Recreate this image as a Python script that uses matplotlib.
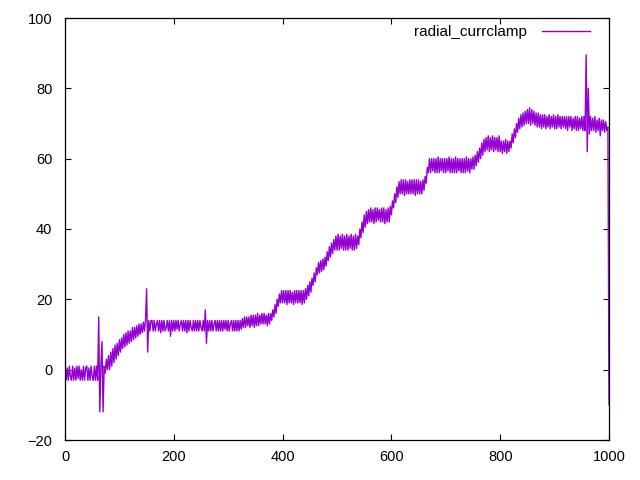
import numpy as np
import matplotlib
matplotlib.use('Agg')
import matplotlib.pyplot as plt

plt.rcParams['font.family'] = ['Liberation Sans', 'DejaVu Sans']

# radial_currclamp, one sample every 2 units of x
values = [
    1, -3, 0.5, -3, 1, -2, -3, 1, -3, 0.5, -3, 1, -2.5, 1, -3, 0, -3, 1, -3, 0.5,
    1, -3, 0.5, -3, 1, -2, -3, 1, -3, 1, -3, 15, -12, 1, 8, -12, 1, -1, 3, 0,
    4, 0, 5, 1, 6, 2, 7, 3, 7.5, 4, 8.5, 5, 9, 6, 10, 6.5, 10.5, 7, 11, 7.5,
    11, 8, 12, 8.5, 12, 9, 12.5, 9.5, 13, 10, 13, 10.5, 13.5, 11, 14, 23, 5, 14, 11, 14,
    14, 11, 14, 11, 13, 14, 11, 14, 10.5, 14, 11, 14, 11, 12, 14, 11, 14, 9.5, 14, 11,
    14, 11, 14, 11.5, 14, 11, 13, 14, 11, 14, 11, 14, 10.5, 14, 11, 14, 12, 11, 14, 11,
    14, 11, 14, 11, 14, 12, 11, 14, 11, 17, 7.5, 14, 11, 14, 11, 14, 11, 13, 14, 11,
    14, 11, 14, 11, 14, 11, 14, 11.5, 14, 11, 14, 11, 13, 14, 11, 14, 11, 14, 11, 14,
    11, 14, 11.5, 14.5, 12, 15, 12, 15, 12.5, 15, 12, 15.5, 12.5, 15.5, 12, 15.5, 12.5, 16, 12.5, 15.5,
    13, 16, 13, 16, 13, 15.5, 12.5, 16, 13, 16, 14, 17, 15, 18.5, 16, 20, 18, 21.5, 19, 22.5,
    19, 22.5, 19, 22.5, 18.5, 22.5, 19, 22.5, 19, 22, 18.5, 22.5, 19, 22.5, 19, 22.5, 19, 22.5, 18.5, 22.5,
    19, 23, 20, 24, 21, 25, 22, 26, 24, 27.5, 25, 29, 27, 30.5, 27.5, 31, 28, 31.5, 28.5, 32,
    29.5, 33.5, 31, 35, 32, 36, 33, 37, 34, 38, 34, 38.5, 34, 38, 34.5, 38.5, 34, 38, 34, 38.5,
    34, 38, 34.5, 38.5, 34, 38, 34, 38.5, 34.5, 38, 35.5, 40, 37.5, 42, 39, 44, 40.5, 45, 41.5, 45.5,
    42, 46, 42, 45.5, 41.5, 46, 42, 46, 42.5, 45.5, 42, 46, 42, 46, 41.5, 45.5, 42, 46, 42, 46.5,
    44, 48, 46, 50, 47.5, 52, 49, 53.5, 50, 54, 50, 54, 49.5, 54, 50, 53.5, 50, 54, 50, 54,
    50, 54, 49.5, 54, 50, 54, 50, 53.5, 50, 54, 51, 55, 53, 57.5, 56, 60, 56, 60, 56.5, 60,
    56, 60, 56, 60.5, 56, 60, 56.5, 60, 56, 60, 56, 60, 56.5, 60.5, 56, 60, 56, 60, 56, 60.5,
    56, 60, 56.5, 60, 56, 60, 56, 60, 56, 60.5, 56.5, 60, 56, 60, 57, 60.5, 57, 61, 58, 62,
    59, 63, 60, 64.5, 61, 65.5, 62, 66, 62.5, 66.5, 62, 66, 62.5, 66.5, 62, 66, 62.5, 66, 62, 66.5,
    62, 65, 61.5, 65, 62, 65.5, 61.5, 65, 62, 65, 63, 67, 64.5, 68.5, 66, 70, 67.5, 71.5, 68.5, 72.5,
    69, 73, 69.5, 73.5, 70, 74, 70, 74.5, 69.5, 74, 70, 73.5, 69.5, 73, 69, 73, 69, 72.5, 68.5, 72.5,
    69, 72.5, 68.5, 72, 69, 72.5, 68.5, 72, 69, 72.5, 68.5, 72, 68.5, 72.5, 69, 72, 68.5, 72, 69, 72,
    68.5, 72, 68, 72, 69, 72, 68, 71.5, 68.5, 72, 68, 72, 68, 71.5, 68.5, 72, 68, 72, 68, 89.5,
    62, 80, 67, 72, 68, 71.5, 68, 72, 67.5, 71, 68, 71.5, 66.5, 71, 68, 71, 67.5, 70.5, 68, 69,
    -10,
]
x = np.linspace(0, 1000, len(values))

xticks = [0, 200, 400, 600, 800, 1000]
yticks = [-20, 0, 20, 40, 60, 80, 100]

fig = plt.figure(figsize=(6.4, 4.8), dpi=100)
ax = fig.add_axes([65/640, 1 - 440/480, 544/640, 422/480])

ax.plot(x, values, color='#9400d3', lw=1.0, label='radial_currclamp')

ax.set_xlim(0, 1000)
ax.set_ylim(-20, 100)
ax.set_xticks(xticks)
ax.set_yticks(yticks)
ax.tick_params(direction='in', length=4, width=0.8, top=True, right=True,
               labelsize=10.5, colors='black')
ax.tick_params(axis='x', pad=7)
ax.tick_params(axis='y', pad=9)
for s in ax.spines.values():
    s.set_linewidth(0.9)

ax.legend(loc='upper right', bbox_to_anchor=(0.984, 1.008), frameon=False,
          markerfirst=False, handlelength=3.1, handletextpad=1.0,
          borderpad=0.2, fontsize=11)

fig.savefig('out.png', dpi=100)
